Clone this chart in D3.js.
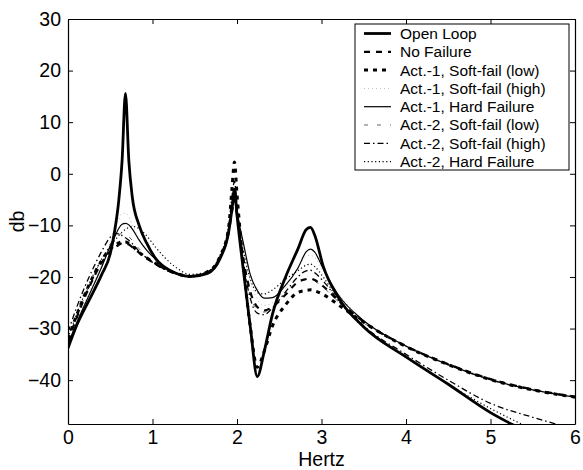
<!DOCTYPE html>
<html>
<head>
<meta charset="utf-8">
<script src="https://cdn.jsdelivr.net/npm/d3@7"></script>
<style>
  html, body { margin: 0; padding: 0; background: #fff; }
  svg { display: block; font-family: "Liberation Sans", Arial, Helvetica, sans-serif; }
</style>
</head>
<body>
<svg id="chart" width="583" height="470"></svg>
<script>
// ---- data ----
const freq = [0, 0.1, 0.25, 0.4, 0.5, 0.55, 0.6, 0.64, 0.68, 0.72, 0.76, 0.84, 0.93, 1.04, 1.25, 1.45, 1.65, 1.8, 1.9, 1.94, 1.97, 2.0, 2.07, 2.16, 2.24, 2.32, 2.42, 2.57, 2.72, 2.82, 2.87, 2.92, 3.02, 3.2, 3.5, 4.0, 4.5, 5.0, 5.5, 6.0];

const openLoop     = [-33.8, -29.5, -24.5, -19.5, -15.5, -11.3, -5.3, 2.5, 15.6, 2.5, -4.4, -9.9, -13.4, -16.5, -19.1, -19.9, -19.3, -16.4, -11.4, -6.9, -3.0, -8.0, -18.0, -30.0, -39.3, -34.6, -27.2, -20.2, -14.6, -10.8, -10.4, -11.9, -17.9, -24.0, -29.7, -35.5, -40.8, -46.3, -50.5, -54.0];
const noFailure    = [-32.5, -28.0, -22.0, -17.2, -15.0, -14.3, -13.8, -13.5, -13.5, -13.7, -14.2, -15.3, -16.4, -17.5, -19.2, -19.9, -19.2, -16.3, -11.5, -7.5, -5.0, -8.0, -16.0, -23.0, -25.8, -26.5, -25.8, -23.5, -21.0, -20.4, -20.3, -20.6, -21.8, -24.6, -28.7, -33.4, -36.9, -39.8, -41.8, -43.2];
const act1SoftLow  = [-32.0, -27.5, -21.5, -16.8, -14.6, -13.9, -13.4, -13.2, -13.2, -13.5, -14.0, -15.2, -16.3, -17.4, -19.1, -19.9, -19.0, -16.0, -10.5, -3.0, 2.3, -4.0, -17.0, -30.0, -37.5, -34.5, -29.5, -25.5, -23.0, -22.6, -22.5, -22.7, -23.4, -25.4, -28.8, -33.5, -37.0, -39.9, -41.9, -43.3];
const act1SoftHigh = [-33.2, -28.8, -23.0, -17.5, -13.5, -11.0, -8.8, -7.7, -7.6, -8.4, -9.8, -12.6, -14.8, -16.7, -19.0, -19.9, -19.2, -16.4, -11.6, -7.5, -5.0, -7.8, -14.5, -21.0, -24.3, -25.5, -25.0, -22.3, -18.2, -16.0, -15.8, -16.3, -18.8, -23.2, -28.4, -33.3, -36.8, -39.7, -41.7, -43.1];
const act1Hard     = [-33.0, -29.0, -23.5, -18.0, -14.0, -12.3, -10.6, -9.8, -9.6, -9.9, -10.7, -12.8, -14.8, -16.6, -19.0, -19.9, -19.2, -16.3, -11.3, -7.0, -4.5, -7.5, -13.0, -19.7, -22.6, -24.1, -24.0, -21.7, -18.3, -15.1, -14.6, -15.2, -18.4, -23.5, -28.5, -33.4, -37.0, -39.9, -41.9, -43.3];
const act2SoftLow  = [-32.3, -27.8, -21.8, -16.5, -13.6, -12.5, -11.8, -11.6, -11.7, -12.2, -12.9, -14.5, -16.0, -17.3, -19.1, -19.9, -19.1, -16.2, -11.0, -6.0, -3.0, -7.0, -16.5, -23.8, -26.3, -26.8, -26.0, -23.5, -21.2, -20.5, -20.4, -20.8, -22.0, -24.8, -28.9, -33.6, -37.1, -40.0, -42.0, -43.4];
const act2SoftHigh = [-30.7, -26.0, -20.0, -15.0, -12.3, -11.6, -11.6, -12.0, -12.4, -12.9, -13.5, -15.0, -16.3, -17.6, -19.3, -20.0, -19.0, -15.8, -10.3, -4.5, -1.5, -6.0, -16.5, -24.3, -27.0, -27.3, -26.0, -23.0, -20.0, -18.8, -18.7, -19.2, -20.8, -24.5, -29.5, -35.0, -40.0, -44.5, -47.2, -49.5];
const act2Hard     = [-31.8, -27.3, -21.3, -16.5, -14.0, -13.0, -12.0, -11.3, -10.8, -10.4, -10.2, -10.6, -12.0, -14.3, -17.8, -19.5, -19.0, -16.3, -11.7, -7.5, -5.3, -8.0, -14.5, -20.5, -23.0, -23.3, -22.5, -20.5, -18.8, -17.7, -17.5, -18.0, -20.0, -24.5, -29.8, -35.6, -40.8, -45.5, -49.5, -53.0];

const seriesNames = ["Open Loop", "No Failure", "Act.-1, Soft-fail (low)", "Act.-1, Soft-fail (high)",
                     "Act.-1, Hard Failure", "Act.-2, Soft-fail (low)", "Act.-2, Soft-fail (high)", "Act.-2, Hard Failure"];
const seriesValues = [openLoop, noFailure, act1SoftLow, act1SoftHigh, act1Hard, act2SoftLow, act2SoftHigh, act2Hard];

const xTicks = [0, 1, 2, 3, 4, 5, 6];
const yTicks = [-40, -30, -20, -10, 0, 10, 20, 30];
const xLabel = "Hertz";
const yLabel = "db";

// ---- styles ----
const styles = [
  { width: 2.8, dash: null,          color: "#000" },
  { width: 2.2, dash: "6,6",         color: "#000" },
  { width: 3.0, dash: "4,5",         color: "#000" },
  { width: 1.0, dash: "1,3",         color: "#bbb" },
  { width: 1.2, dash: null,          color: "#000" },
  { width: 1.0, dash: "4,9",         color: "#666" },
  { width: 1.3, dash: "6,3,1.5,3",   color: "#000" },
  { width: 1.2, dash: "1.2,2.5",     color: "#000" }
];

// ---- layout ----
const W = 583, H = 470;
const margin = { left: 68, right: W - 575, top: 19, bottom: H - 424 };
const iw = W - margin.left - margin.right;
const ih = H - margin.top - margin.bottom;
const fontFamily = "'Liberation Sans', Arial, Helvetica, sans-serif";
const axisFont = 19.5;
const legendFont = 15.5;

const svg = d3.select("#chart");
const g = svg.append("g").attr("transform", `translate(${margin.left},${margin.top})`);

const x = d3.scaleLinear().domain([0, 6]).range([0, iw]);
const y = d3.scaleLinear().domain([-48.5, 30]).range([ih, 0]);

g.append("defs").append("clipPath").attr("id", "clip")
  .append("rect").attr("width", iw).attr("height", ih);

// curves (open loop drawn last, on top)
const line = d3.line().x(d => x(d[0])).y(d => y(d[1])).curve(d3.curveMonotoneX);
const curves = g.append("g").attr("clip-path", "url(#clip)");
const order = [3, 5, 7, 6, 1, 2, 4, 0];
order.forEach(i => {
  const pts = freq.map((f, k) => [f, seriesValues[i][k]]);
  const st = styles[i];
  curves.append("path")
    .attr("d", line(pts))
    .attr("fill", "none")
    .attr("stroke", st.color)
    .attr("stroke-width", st.width)
    .attr("stroke-dasharray", st.dash)
    .attr("stroke-linejoin", "round");
});

// axes: full box with inward ticks
const axB = g.append("g").attr("transform", `translate(0,${ih})`)
  .call(d3.axisBottom(x).tickValues(xTicks).tickFormat(d3.format("d")).tickSizeInner(-5).tickSizeOuter(0).tickPadding(6));
const axL = g.append("g")
  .call(d3.axisLeft(y).tickValues(yTicks).tickFormat(d3.format("d")).tickSizeInner(-5).tickSizeOuter(0).tickPadding(7));
const axT = g.append("g")
  .call(d3.axisTop(x).tickValues(xTicks).tickFormat("").tickSizeInner(-5).tickSizeOuter(0));
const axR = g.append("g").attr("transform", `translate(${iw},0)`)
  .call(d3.axisRight(y).tickValues(yTicks).tickFormat("").tickSizeInner(-5).tickSizeOuter(0));
[axB, axL, axT, axR].forEach(a => {
  a.selectAll("text").attr("font-size", axisFont).attr("fill", "#000").attr("font-family", fontFamily);
  a.selectAll("line").attr("stroke", "#000");
  a.select(".domain").attr("stroke", "#000").attr("stroke-width", 1.2);
});

// axis labels
svg.append("text")
  .attr("x", margin.left + iw / 2).attr("y", 466)
  .attr("text-anchor", "middle").attr("font-size", axisFont).attr("font-family", fontFamily)
  .text(xLabel);
svg.append("text")
  .attr("transform", `translate(24,${margin.top + ih / 2}) rotate(-90)`)
  .attr("text-anchor", "middle").attr("font-size", axisFont).attr("font-family", fontFamily)
  .text(yLabel);

// legend
const lg = svg.append("g").attr("transform", "translate(355,24)");
const rowH = 18.3;
lg.append("rect").attr("x", 0).attr("y", 0).attr("width", 214).attr("height", 146)
  .attr("fill", "#fff").attr("stroke", "#000").attr("stroke-width", 1);
seriesNames.forEach((name, i) => {
  const cy = 9.5 + rowH * i;
  const st = styles[i];
  lg.append("line").attr("x1", 9).attr("x2", 36).attr("y1", cy).attr("y2", cy)
    .attr("stroke", st.color).attr("stroke-width", st.width).attr("stroke-dasharray", st.dash);
  lg.append("text").attr("x", 45).attr("y", cy + 5.4)
    .attr("font-size", legendFont).attr("font-family", fontFamily).attr("fill", "#000").text(name);
});
</script>
</body>
</html>
